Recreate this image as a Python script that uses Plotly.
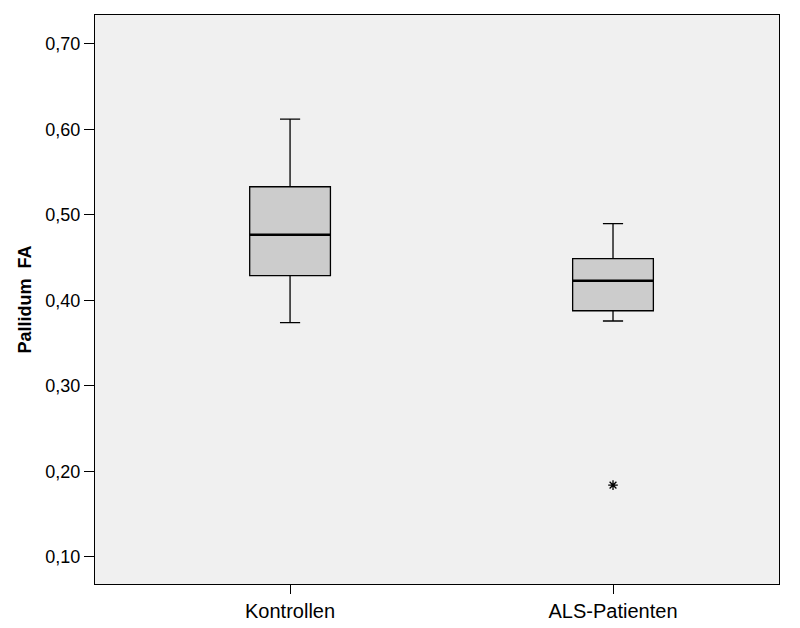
import plotly.graph_objects as go

categories = ["Kontrollen", "ALS-Patienten"]
lower_whisker = [0.374, 0.376]
q1 = [0.429, 0.388]
median = [0.477, 0.423]
q3 = [0.533, 0.449]
upper_whisker = [0.612, 0.490]
outlier_group = [1]
outlier_values = [0.184]

xpos = list(range(len(categories)))
box_w = 0.25

fig = go.Figure()
fig.add_trace(go.Box(
    x=xpos, q1=q1, median=median, q3=q3,
    lowerfence=lower_whisker, upperfence=upper_whisker,
    width=box_w, whiskerwidth=0.25,
    fillcolor="#CCCCCC", line=dict(color="black", width=1.3),
    boxpoints=False, showlegend=False, hoverinfo="skip",
))
# thicker median lines
for i, m in zip(xpos, median):
    fig.add_trace(go.Scatter(
        x=[i - box_w / 2, i + box_w / 2], y=[m, m], mode="lines",
        line=dict(color="black", width=2.5), showlegend=False, hoverinfo="skip",
    ))
fig.add_trace(go.Scatter(
    x=outlier_group, y=outlier_values, mode="markers",
    marker=dict(symbol="asterisk-open", size=8, color="black",
                line=dict(color="black", width=1.3)),
    showlegend=False, hoverinfo="skip",
))

fig.update_layout(
    width=800, height=628,
    margin=dict(l=95, r=21, t=15, b=44),
    paper_bgcolor="white", plot_bgcolor="#F0F0F0",
    separators=", ",
    font=dict(family="Liberation Sans, Arial, sans-serif", size=18, color="black"),
)
fig.update_xaxes(
    range=[-0.604, 1.514], tickvals=xpos, ticktext=categories,
    ticks="outside", ticklen=9, tickcolor="black", tickwidth=1.3,
    showline=True, linecolor="black", linewidth=1.3, mirror=True,
    showgrid=False, zeroline=False, tickfont=dict(size=20), automargin=False,
)
fig.update_yaxes(
    range=[0.0684, 0.7339], tickvals=[0.1, 0.2, 0.3, 0.4, 0.5, 0.6, 0.7],
    tickformat=".2f", ticks="outside", ticklen=10, tickcolor="black", tickwidth=1.3,
    showline=True, linecolor="black", linewidth=1.3, mirror=True,
    showgrid=False, zeroline=False, tickfont=dict(size=18), automargin=False,
    title=dict(text="<b>Pallidum  FA</b>", font=dict(size=18), standoff=8),
)
fig.write_html("out.html")
